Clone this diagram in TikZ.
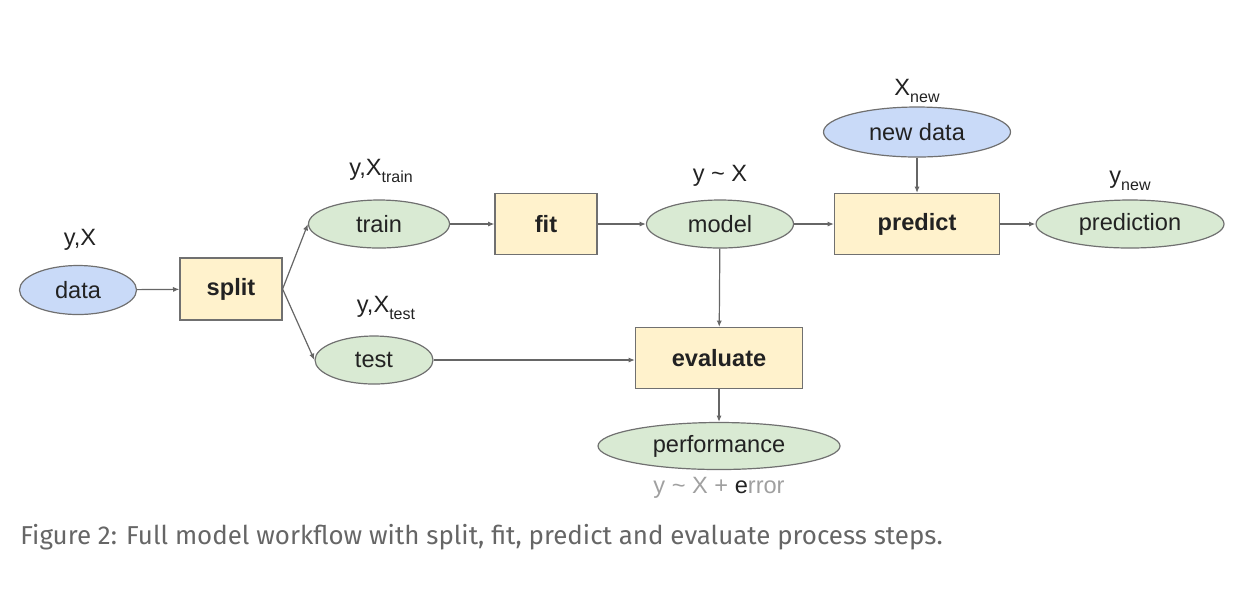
\documentclass[tikz,border=0pt]{standalone}
\usepackage{fontspec}
\setmainfont{Liberation Sans}
\newfontfamily\captionfont{Fira Sans}
\usetikzlibrary{positioning, calc, arrows.meta, shapes}
\usepackage{xcolor}
\definecolor{inblue}{HTML}{C9DAF8}
\definecolor{outgreen}{HTML}{D9EAD3}
\definecolor{stepyellow}{HTML}{FFF2CC}
\definecolor{edgegray}{HTML}{707070}
\definecolor{linkgray}{HTML}{666666}
\definecolor{inkdark}{HTML}{222222}
\definecolor{errgray}{HTML}{A0A0A0}
\definecolor{capgray}{HTML}{666666}
\newcommand{\lowsub}[1]{\raisebox{-0.55ex}{\fontsize{8}{9}\selectfont #1}}
\tikzset{every node/.append style={text=inkdark, font=\fontsize{11.8}{14}\selectfont}}
\tikzset{stepbox/.style={draw=edgegray, fill=stepyellow, line width=0.6pt, inner sep=0pt, font=\fontsize{11.8}{14}\selectfont\bfseries, minimum height=30.5pt}}
\tikzset{inball/.style={ellipse, draw=edgegray, fill=inblue, line width=0.6pt, inner sep=0pt}}
\tikzset{outball/.style={ellipse, draw=edgegray, fill=outgreen, line width=0.6pt, inner sep=0pt}}
\tikzset{flow/.style={draw=linkgray, line width=0.6pt, -{Latex[length=3.2pt,width=2.6pt]}}}
\tikzset{note/.style={inner sep=0pt}}

\begin{document}
\begin{tikzpicture}[x=0.5pt, y=-0.5pt]
  \useasboundingbox (0,0) rectangle (1234,602);

  % data side
  \node[inball, minimum width=58.5pt, minimum height=24.5pt] (data) at (78,290) {data};
  \node[stepbox, minimum width=51pt, minimum height=31pt] (split) at (231,289) {split};
  \node[outball, minimum width=70.5pt, minimum height=24pt] (train) at (379,224) {train};
  \node[outball, minimum width=59pt, minimum height=24pt] (test) at (374,360) {test};

  % fitting and predicting
  \node[stepbox, minimum width=51pt] (fit) at (546,224) {fit};
  \node[outball, minimum width=73.5pt, minimum height=24pt] (model) at (720,224) {model};
  \node[stepbox, minimum width=82.5pt] (predict) at (917,224) {predict};
  \node[inball, minimum width=93.5pt, minimum height=25pt] (newdata) at (917,132) {new data};
  \node[outball, minimum width=94pt, minimum height=24pt] (prediction) at (1130,224) {prediction};

  % evaluation
  \node[stepbox, minimum width=83.5pt] (evaluate) at (719,358) {evaluate};
  \node[outball, minimum width=121pt, minimum height=23.5pt] (performance) at (719,446) {performance};

  % labels
  \node[note] (datalbl) at (80,240) {y,X};
  \node[note] (trainlbl) at (381,171) {y,X\lowsub{train}};
  \node[note] (testlbl) at (386,308) {y,X\lowsub{test}};
  \node[note] (modellbl) at (720,176) {y \textasciitilde{} X};
  \node[note] (newlbl) at (917,91) {X\lowsub{new}};
  \node[note] (predlbl) at (1130,181) {y\lowsub{new}};
  \node[note, text=errgray] (errlbl) at (719,488) {y \textasciitilde{} X + {\color{inkdark}e}rror};

  \draw[flow] (data) -- (split);
  \draw[flow] (split.east) -- (train.west);
  \draw[flow] (split.east) -- (test.west);
  \draw[flow] (train) -- (fit);
  \draw[flow] (fit) -- (model);
  \draw[flow] (model) -- (predict);
  \draw[flow] (newdata) -- (predict);
  \draw[flow] (predict) -- (prediction);
  \draw[flow] (test) -- (test -| evaluate.west);
  \draw[flow] (model) -- (evaluate);
  \draw[flow] (evaluate) -- (performance);

  % caption
  \node[note, anchor=west, text=capgray, font=\captionfont\fontsize{12.95}{16}\selectfont] (caption) at (20,537)
    {Figure 2: Full model workflow with split, fit, predict and evaluate process steps.};
\end{tikzpicture}
\end{document}
